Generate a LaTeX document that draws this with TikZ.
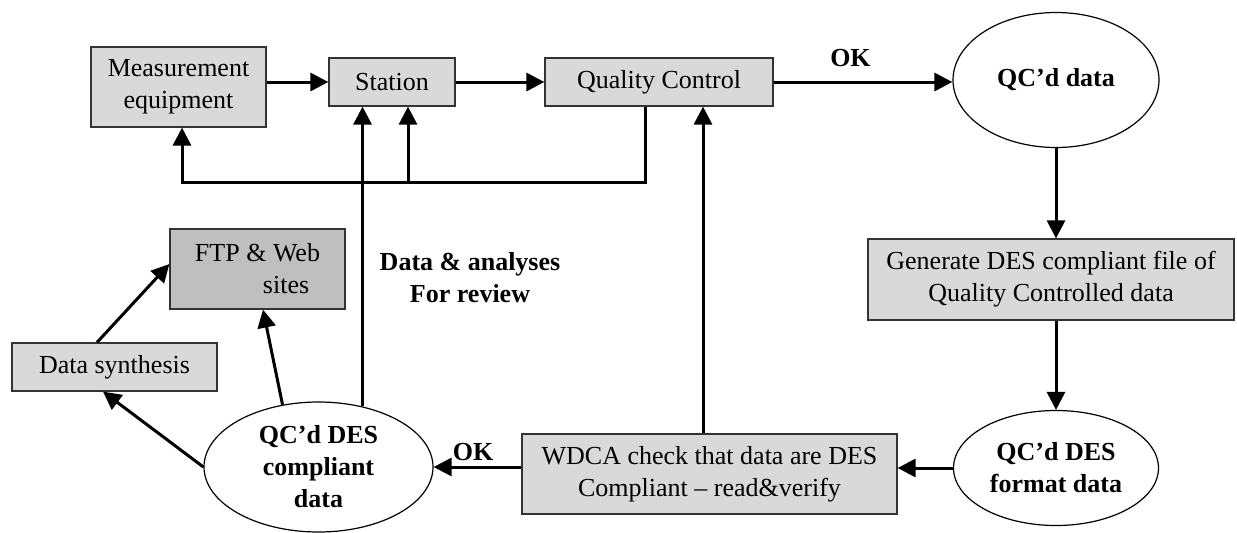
\documentclass[tikz,border=0pt]{standalone}
\usepackage{fontspec}
\setmainfont{Liberation Serif}
\usepackage{tikz}
\usetikzlibrary{arrows.meta,shapes.geometric}
\usepackage{xcolor}
\colorlet{boxfill}{gray!30}
\colorlet{webfill}{gray!50}
\tikzset{
  >={Triangle[length=9pt,width=9pt]},
  basic/.style={draw=black!80,line width=0.6pt,inner sep=0pt,align=center,
                font=\fontsize{13}{16}\selectfont},
  process/.style={basic,rectangle,fill=boxfill},
  website/.style={basic,rectangle,fill=webfill,align=left},
  dataset/.style={basic,ellipse,draw=black,fill=white,
                  font=\fontsize{13}{16}\selectfont\bfseries},
  connect/.style={->,line width=1.5pt},
  label/.style={inner sep=1pt,align=center,font=\fontsize{13}{16}\selectfont\bfseries}
}

\begin{document}
\begin{tikzpicture}[x=0.5pt,y=-0.5pt]
   \useasboundingbox (0,0) rectangle (1237,532);
   % Draw top row
   \node[process,minimum width=87.5pt,minimum height=40pt] (meas) at (178.5,87) {Measurement\\equipment};
   \node[process,minimum width=63pt,minimum height=24pt] (station) at (392,82) {Station};
   \node[process,minimum width=114pt,minimum height=24pt] (qc) at (659,82) {Quality Control};
   \node[dataset,minimum width=103pt,minimum height=67.5pt] (qcdata) at (1056,80) {QC'd data};
   % Right column
   \node[process,minimum width=183pt,minimum height=40.5pt] (gen) at (1051,279.5) {Generate DES compliant file of\\Quality Controlled data};
   \node[dataset,minimum width=102.5pt,minimum height=57.5pt] (fmt) at (1056,468) {QC'd DES\\format data};
   % Bottom row
   \node[process,minimum width=187.5pt,minimum height=40pt] (wdca) at (709.5,474) {WDCA check that data are DES\\Compliant -- read\&verify};
   \node[dataset,minimum width=114.5pt,minimum height=65pt] (compl) at (318.5,467) {QC'd DES\\compliant\\data};
   \node[process,minimum width=102.5pt,minimum height=24pt] (synth) at (114.5,367) {Data synthesis};
   \node[website,minimum width=87.5pt,minimum height=40pt] (ftp) at (257.5,269) {FTP \& Web\\\hspace*{34pt}sites};
   % Label of the review path
   \node[label] (review) at (470,278) {Data \& analyses\\For review};
   % Main flow
   \draw[connect] (meas.east |- station) -- (station);
   \draw[connect] (station) -- (qc);
   \draw[connect] (qc.east) -- (qc.east -| qcdata.west) node[label,pos=0.43,above=6pt] (ok1) {OK};
   \draw[connect] (qcdata) -- (qcdata |- gen.north);
   \draw[connect] (gen.south -| fmt) -- (fmt);
   \draw[connect] (fmt) -- (wdca.east |- fmt);
   \draw[connect] (wdca.west |- compl) -- (compl) node[label,pos=0.55,above=1.5pt] (ok2) {OK};
   \draw[connect] ([xshift=-3.25pt]wdca.north) -- ([xshift=-3.25pt]wdca.north |- qc.south);
   \draw[connect] (compl.54) -- (compl.54 |- station.south);
   % Feedback loop
   \coordinate (fb) at (645,182);
   \coordinate (fbst) at (408,182);
   \draw[connect] (qc.south -| fb) |- ([xshift=1.75pt]meas.south |- fb) -- ([xshift=1.75pt]meas.south);
   \draw[connect] (fbst) -- (fbst |- station.south);
   % Publishing
   \draw[connect] (compl.120) -- ([xshift=2.75pt]ftp.south);
   \draw[connect] (compl.west) -- ([xshift=-5.75pt]synth.south);
   \draw[connect] ([xshift=-8.75pt]synth.north) -- ([yshift=2.5pt]ftp.west);
\end{tikzpicture}
\end{document}
